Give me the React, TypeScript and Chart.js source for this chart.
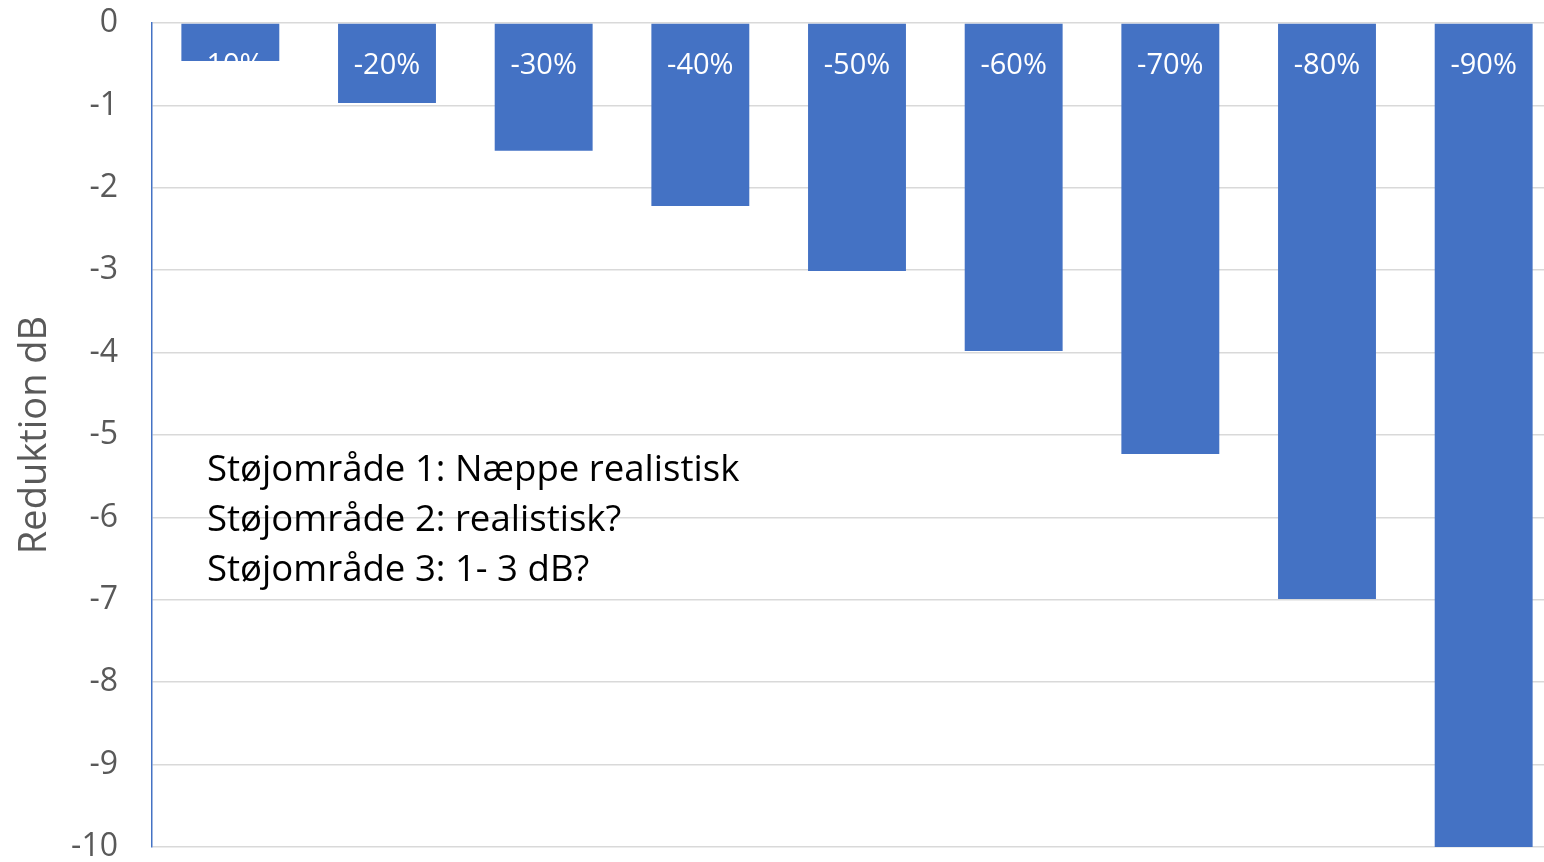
import React, { useEffect, useRef } from "react";
import { Chart, registerables } from "chart.js";

Chart.register(...registerables);

const categories = ["-10%", "-20%", "-30%", "-40%", "-50%", "-60%", "-70%", "-80%", "-90%"];
const reductionDb = [-0.46, -0.97, -1.55, -2.22, -3.01, -3.98, -5.23, -6.99, -10];
const annotationLines = [
  "Støjområde 1: Næppe realistisk",
  "Støjområde 2: realistisk?",
  "Støjområde 3: 1- 3 dB?",
];
const yTitle = "Reduktion dB";

const FONT = "'Open Sans', sans-serif";

export default function App() {
  const ref = useRef<HTMLCanvasElement | null>(null);

  useEffect(() => {
    document.body.style.overflow = "hidden";
    const canvas = ref.current;
    if (!canvas) return;

    const labelPlugin = {
      id: "labelsAndNotes",
      afterDatasetsDraw(chart: any) {
        const ctx = chart.ctx;
        const meta = chart.getDatasetMeta(0);
        const y0 = chart.scales.y.getPixelForValue(0);
        ctx.save();
        ctx.fillStyle = "#ffffff";
        ctx.font = `29px ${FONT}`;
        ctx.textAlign = "center";
        ctx.textBaseline = "middle";
        meta.data.forEach((bar: any, i: number) => {
          ctx.fillText(categories[i], bar.x, y0 + 43);
        });
        ctx.fillStyle = "#000000";
        ctx.font = `36.6px ${FONT}`;
        ctx.textAlign = "left";
        annotationLines.forEach((t, i) => {
          ctx.fillText(t, 207, 471 + i * 50);
        });
        ctx.restore();
      },
    };

    const chart = new Chart(canvas, {
      type: "bar",
      data: {
        labels: categories,
        datasets: [
          {
            data: reductionDb,
            backgroundColor: "#4472C4",
            borderWidth: 0,
            barPercentage: 0.625,
            categoryPercentage: 1,
          },
        ],
      },
      options: {
        animation: false,
        responsive: true,
        maintainAspectRatio: false,
        layout: { padding: { top: 23, bottom: 15, right: 8, left: 0 } },
        plugins: {
          legend: { display: false },
          tooltip: { enabled: false },
        },
        scales: {
          x: { display: false },
          y: {
            min: -10,
            max: 0,
            ticks: {
              stepSize: 1,
              padding: 0,
              color: "#595959",
              font: { family: FONT, size: 32, lineHeight: 0.9 },
            },
            grid: {
              color: "#d9d9d9",
              lineWidth: 1.5,
              drawTicks: true,
              tickLength: 34,
              tickColor: "rgba(0,0,0,0)",
            },
            border: { color: "#4472C4", width: 1.5 },
            title: {
              display: true,
              text: yTitle,
              color: "#595959",
              font: { family: FONT, size: 38 },
              padding: { top: 12, bottom: 0 },
            },
            afterFit(scale: any) {
              scale.width = 152;
            },
          },
        },
      },
      plugins: [labelPlugin],
    });
    return () => chart.destroy();
  }, []);

  return (
    <div style={{ position: "fixed", left: 0, top: 0, width: "1570px", height: "862px", background: "#fff" }}>
      <canvas ref={ref} />
    </div>
  );
}
